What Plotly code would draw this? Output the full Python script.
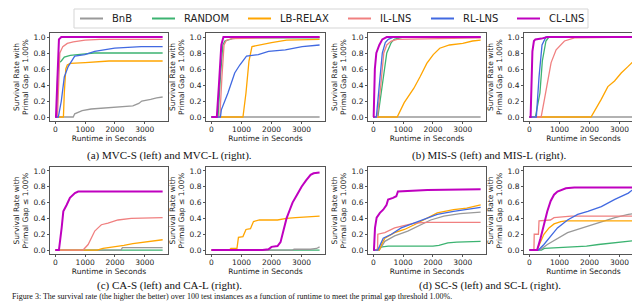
import plotly.graph_objects as go

methods = ["BnB", "RANDOM", "LB-RELAX", "IL-LNS", "RL-LNS", "CL-LNS"]
colors = {"BnB": "#999999", "RANDOM": "#3CB371", "LB-RELAX": "#FFA500",
          "IL-LNS": "#F08080", "RL-LNS": "#4169E1", "CL-LNS": "#BF00BF"}
draw_order = ["RANDOM", "BnB", "LB-RELAX", "IL-LNS", "RL-LNS", "CL-LNS"]

MVC_S = {
    "BnB": ([0, 600, 650, 700, 900, 1200, 1500, 1800, 2200, 2600, 2800, 2900, 3200, 3400, 3600],
            [0, 0, 0.04, 0.05, 0.08, 0.1, 0.11, 0.12, 0.13, 0.14, 0.17, 0.2, 0.22, 0.24, 0.25]),
    "RANDOM": ([0, 40, 80, 120, 200, 300, 500, 700, 1000, 1300, 3600],
               [0, 0, 0.57, 0.68, 0.7, 0.75, 0.77, 0.78, 0.79, 0.8, 0.8]),
    "LB-RELAX": ([0, 270, 300, 350, 400, 500, 1000, 1800, 3600],
                 [0, 0, 0.3, 0.6, 0.65, 0.67, 0.68, 0.7, 0.7]),
    "IL-LNS": ([0, 70, 150, 250, 400, 600, 1000, 1500, 3600],
               [0, 0, 0.8, 0.88, 0.92, 0.94, 0.96, 0.97, 0.97]),
    "RL-LNS": ([0, 100, 200, 300, 430, 650, 990, 1320, 1990, 2400, 2880, 3600],
               [0, 0, 0.2, 0.5, 0.63, 0.76, 0.78, 0.82, 0.86, 0.87, 0.88, 0.88]),
    "CL-LNS": ([0, 20, 120, 200, 3600], [0, 0, 0.97, 1.0, 1.0]),
}
MVC_L = {
    "BnB": ([0, 3600], [0, 0]),
    "RANDOM": ([0, 220, 300, 380, 450, 700, 1000, 3600], [0, 0, 0.5, 0.9, 0.95, 0.98, 0.99, 0.99]),
    "LB-RELAX": ([0, 1050, 1150, 1250, 1350, 1600, 2000, 2500, 3600],
                 [0, 0, 0.3, 0.7, 0.88, 0.9, 0.93, 0.96, 0.97]),
    "IL-LNS": ([0, 280, 350, 420, 500, 700, 3600], [0, 0, 0.5, 0.9, 0.96, 0.98, 1.0]),
    "RL-LNS": ([0, 300, 330, 550, 775, 944, 1168, 1560, 1900, 2460, 3020, 3600],
               [0, 0, 0.09, 0.3, 0.55, 0.65, 0.76, 0.78, 0.82, 0.84, 0.88, 0.9]),
    "CL-LNS": ([0, 180, 250, 330, 400, 3600], [0, 0, 0.4, 0.9, 1.0, 1.0]),
}
MIS_S = {
    "BnB": ([0, 3600], [0, 0]),
    "RANDOM": ([0, 150, 300, 450, 600, 700, 1000, 3600], [0, 0, 0.4, 0.8, 0.93, 0.97, 1.0, 1.0]),
    "LB-RELAX": ([0, 800, 1035, 1360, 1576, 1793, 2010, 2228, 2554, 3000, 3326, 3600],
                 [0, 0, 0.18, 0.36, 0.51, 0.67, 0.78, 0.86, 0.9, 0.92, 0.95, 0.96]),
    "IL-LNS": ([0, 130, 250, 350, 450, 600, 800, 2000, 3600], [0, 0, 0.4, 0.8, 0.9, 0.95, 0.97, 0.98, 0.99]),
    "RL-LNS": ([0, 100, 200, 300, 400, 500, 700, 3600], [0, 0, 0.4, 0.8, 0.93, 0.97, 1.0, 1.0]),
    "CL-LNS": ([0, 10, 50, 100, 200, 300, 450, 3600], [0, 0, 0.6, 0.8, 0.9, 0.97, 1.0, 1.0]),
}
MIS_L = {
    "BnB": ([0, 3600], [0, 0]),
    "RANDOM": ([0, 200, 350, 430, 550, 650, 3600], [0, 0, 0.3, 0.7, 0.95, 1, 1]),
    "LB-RELAX": ([0, 2050, 2390, 2611, 2833, 3055, 3278, 3500, 3600],
                 [0, 0, 0.22, 0.38, 0.45, 0.55, 0.63, 0.72, 0.75]),
    "IL-LNS": ([0, 390, 500, 611, 722, 889, 1167, 1500, 3600], [0, 0, 0.22, 0.43, 0.68, 0.84, 0.95, 0.99, 1]),
    "RL-LNS": ([0, 230, 320, 420, 550, 3600], [0, 0, 0.5, 0.9, 1, 1]),
    "CL-LNS": ([0, 40, 100, 150, 200, 400, 600, 3600], [0, 0, 0.82, 0.95, 0.97, 0.98, 1, 1]),
}
CA_S = {
    "BnB": ([0, 2200, 2250, 3600], [0, 0, 0.03, 0.03]),
    "RANDOM": ([0, 3600], [0, 0]),
    "LB-RELAX": ([0, 1400, 1600, 2000, 2300, 2600, 3000, 3300, 3600],
                 [0, 0, 0.02, 0.04, 0.06, 0.08, 0.1, 0.12, 0.13]),
    "IL-LNS": ([0, 930, 1100, 1322, 1433, 1544, 1767, 2100, 2544, 3600],
               [0, 0, 0.07, 0.24, 0.28, 0.32, 0.34, 0.38, 0.4, 0.41]),
    "CL-LNS": ([0, 120, 211, 267, 378, 489, 656, 767, 3600], [0, 0, 0.28, 0.49, 0.57, 0.66, 0.72, 0.74, 0.74]),
}
CA_L = {
    "BnB": ([0, 2700, 2750, 3300, 3500, 3600], [0, 0, 0.01, 0.01, 0.02, 0.04]),
    "RANDOM": ([0, 3600], [0, 0]),
    "LB-RELAX": ([0, 600, 650, 850, 900, 1050, 1150, 1300, 1400, 1600, 2200, 2500, 2800, 3200, 3600],
                 [0, 0, 0.02, 0.02, 0.16, 0.17, 0.26, 0.27, 0.36, 0.38, 0.38, 0.4, 0.41, 0.42, 0.43]),
    "CL-LNS": ([0, 1700, 1900, 2000, 2200, 2300, 2400, 2500, 2600, 2700, 2850, 3000, 3150, 3300, 3400, 3600],
               [0, 0, 0.01, 0.04, 0.05, 0.1, 0.25, 0.4, 0.5, 0.6, 0.7, 0.8, 0.88, 0.95, 0.97, 0.98]),
}
SC_S = {
    "BnB": ([0, 200, 385, 714, 1154, 1593, 1923, 2363, 2912, 3600],
            [0, 0, 0.11, 0.18, 0.24, 0.32, 0.38, 0.43, 0.46, 0.48]),
    "RANDOM": ([0, 100, 150, 300, 500, 2000, 2200, 2500, 2800, 3600],
               [0, 0, 0.02, 0.04, 0.05, 0.05, 0.06, 0.09, 0.1, 0.11]),
    "LB-RELAX": ([0, 200, 275, 385, 714, 1044, 1374, 1813, 2143, 2692, 3132, 3600],
                 [0, 0, 0.07, 0.15, 0.22, 0.26, 0.32, 0.4, 0.47, 0.51, 0.53, 0.57]),
    "IL-LNS": ([0, 140, 150, 385, 714, 1044, 1374, 1813, 3600], [0, 0, 0.2, 0.22, 0.28, 0.31, 0.34, 0.35, 0.35]),
    "RL-LNS": ([0, 150, 330, 604, 934, 1374, 1813, 2143, 2692, 3132, 3600],
               [0, 0, 0.15, 0.2, 0.28, 0.34, 0.4, 0.45, 0.49, 0.51, 0.54]),
    "CL-LNS": ([0, 20, 55, 110, 220, 330, 440, 495, 660, 770, 824, 1264, 1813, 3600],
               [0, 0, 0.28, 0.41, 0.47, 0.51, 0.57, 0.64, 0.66, 0.68, 0.74, 0.75, 0.76, 0.77]),
}
SC_L = {
    "BnB": ([0, 350, 596, 933, 1270, 1607, 1944, 2281, 2843, 3292, 3600],
            [0, 0, 0.07, 0.15, 0.22, 0.26, 0.3, 0.34, 0.41, 0.45, 0.47]),
    "RANDOM": ([0, 400, 500, 1000, 1500, 1900, 2300, 2800, 3200, 3500, 3600],
               [0, 0, 0.02, 0.03, 0.04, 0.05, 0.07, 0.09, 0.1, 0.12, 0.13]),
    "LB-RELAX": ([0, 250, 483, 652, 820, 1045, 1200, 3600], [0, 0, 0.2, 0.28, 0.33, 0.36, 0.37, 0.37]),
    "IL-LNS": ([0, 150, 160, 300, 320, 700, 820, 1382, 3600], [0, 0, 0.2, 0.2, 0.37, 0.38, 0.41, 0.43, 0.43]),
    "RL-LNS": ([0, 300, 483, 708, 933, 1270, 1607, 1944, 2393, 2843, 3292, 3600],
               [0, 0, 0.07, 0.18, 0.28, 0.38, 0.45, 0.49, 0.55, 0.64, 0.72, 0.81]),
    "CL-LNS": ([0, 258, 370, 483, 596, 708, 820, 933, 1045, 1213, 1494, 3600],
               [0, 0, 0.15, 0.32, 0.49, 0.62, 0.7, 0.74, 0.76, 0.78, 0.79, 0.79]),
}

panels = [MVC_S, MVC_L, MIS_S, MIS_L, CA_S, CA_L, SC_S, SC_L]
captions = ["(a) MVC-S (left) and MVC-L (right).", "(b) MIS-S (left) and MIS-L (right).",
            "(c) CA-S (left) and CA-L (right).", "(d) SC-S (left) and SC-L (right)."]
footer = ("Figure 3: The survival rate (the higher the better) over 100 test instances as a "
          "function of runtime to meet the primal gap threshold 1.00%.")
x_ticks = [0, 1000, 2000, 3000]
y_ticks = [0.0, 0.2, 0.4, 0.6, 0.8, 1.0]

W, H = 640, 303
col_px = [(42, 160), (198, 317), (360, 478), (516, 635)]
row_px = [(25, 113), (159, 246)]

fig = go.Figure()
layout = {}
axis_font = dict(family="DejaVu Sans", size=7.5, color="#222")
for i, panel in enumerate(panels):
    r, c = divmod(i, 4)
    n = i + 1
    xa = "x" if n == 1 else f"x{n}"
    ya = "y" if n == 1 else f"y{n}"
    for m in draw_order:
        if m not in panel:
            continue
        t, v = panel[m]
        fig.add_trace(go.Scatter(
            x=t, y=v, mode="lines", name=m, xaxis=xa, yaxis=ya,
            line=dict(color=colors[m], width=2.0 if m == "CL-LNS" else 1.3),
            showlegend=False,
        ))
    x0, x1 = col_px[c]
    y0, y1 = row_px[r]
    common = dict(showline=True, linecolor="#555", linewidth=1, mirror=True,
                  ticks="outside", ticklen=2, tickwidth=1, tickcolor="#555",
                  showgrid=False, zeroline=False, tickfont=axis_font)
    layout["xaxis" if n == 1 else f"xaxis{n}"] = dict(
        domain=[x0 / W, x1 / W], anchor=ya, range=[-180, 3780],
        tickvals=x_ticks, ticktext=[str(v) for v in x_ticks], ticklabelstandoff=-1,
        title=dict(text="Runtime in Seconds", font=axis_font, standoff=0), **common)
    layout["yaxis" if n == 1 else f"yaxis{n}"] = dict(
        domain=[1 - y1 / H, 1 - y0 / H], anchor=xa, range=[-0.05, 1.05],
        tickvals=y_ticks, ticktext=[f"{v:.1f}" for v in y_ticks],
        title=dict(text="Survival Rate with<br>Primal Gap ≤ 1.00%", font=axis_font, standoff=3), **common)

annotations = []
shapes = []
cap_pos = [(161, 147), (481, 147), (161, 277.5), (482, 277.5)]
for txt, (cx, cy) in zip(captions, cap_pos):
    annotations.append(dict(text=txt, x=cx / W, y=1 - cy / H, xref="paper", yref="paper",
                            showarrow=False, xanchor="center", yanchor="middle",
                            font=dict(family="Liberation Serif", size=11, color="#111")))
annotations.append(dict(text=footer, x=2 / W, y=1 - 288.5 / H, xref="paper", yref="paper",
                        showarrow=False, xanchor="left", yanchor="middle",
                        font=dict(family="Liberation Serif", size=8, color="#111")))

# legend box drawn at top
leg_line_x = [72, 144, 240, 340, 423, 509]
leg_y = 10.5
shapes.append(dict(type="rect", xref="paper", yref="paper",
                   x0=66 / W, x1=580 / W, y0=1 - 20 / H, y1=1 - 1 / H,
                   line=dict(color="#d5d5d5", width=1), fillcolor="white", layer="above"))
for m, lx in zip(methods, leg_line_x):
    shapes.append(dict(type="line", xref="paper", yref="paper",
                       x0=lx / W, x1=(lx + 23) / W, y0=1 - leg_y / H, y1=1 - leg_y / H,
                       line=dict(color=colors[m], width=2), layer="above"))
    annotations.append(dict(text=m, x=(lx + 30) / W, y=1 - leg_y / H, xref="paper", yref="paper",
                            showarrow=False, xanchor="left", yanchor="middle",
                            font=dict(family="DejaVu Sans", size=10, color="#222")))

fig.update_layout(
    width=W, height=H, margin=dict(l=0, r=0, t=0, b=0),
    paper_bgcolor="white", plot_bgcolor="white", showlegend=False,
    annotations=annotations, shapes=shapes,
    **layout,
)
fig.write_html("out.html")
